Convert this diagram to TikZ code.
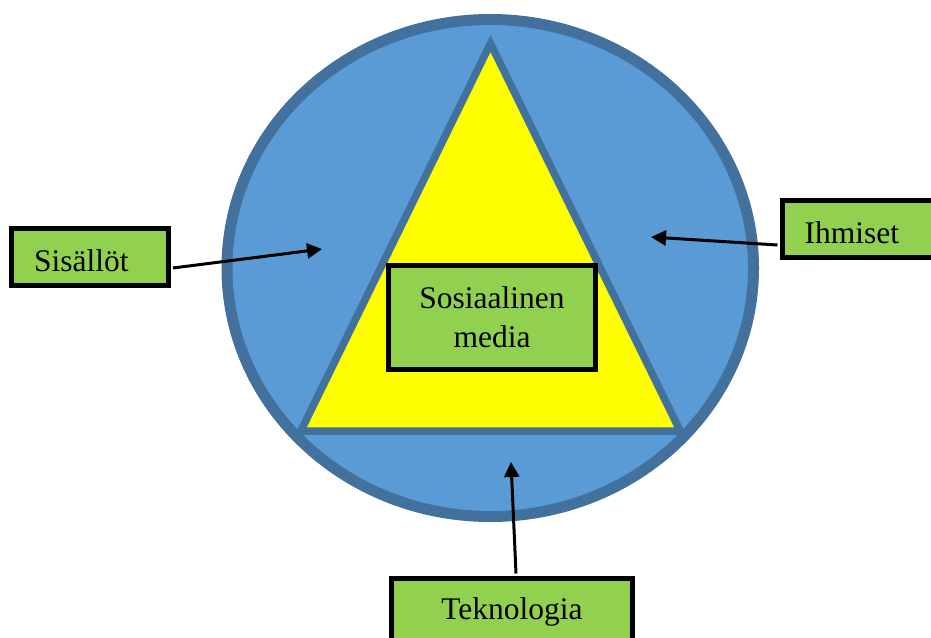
\documentclass[tikz,border=0pt]{standalone}
\usepackage{fontspec}
\setmainfont{Liberation Serif}
\usetikzlibrary{arrows.meta,calc}

\definecolor{discfill}{HTML}{5B9BD5}
\definecolor{discline}{HTML}{41719C}
\definecolor{triyellow}{HTML}{FFFF00}
\definecolor{boxgreen}{HTML}{92D050}

\tikzset{
  labelbox/.style={draw=black, fill=boxgreen, line width=5pt,
    font=\fontsize{31.5}{39}\selectfont},
  sidebox/.style={labelbox, text width=112pt, inner xsep=22.5pt,
    minimum height=57pt, align=left, text height=28pt, text depth=0pt},
  pointer/.style={draw=black, line width=3pt,
    -{Triangle[length=15pt,width=15pt]}}
}

\begin{document}
\begin{tikzpicture}[x=1pt, y=-1pt]
  \useasboundingbox (0,0) rectangle (931,637);
  \clip (0,0) rectangle (931,637);

  % outer disc
  \draw[fill=discfill, draw=discline, line width=11pt]
    (490.25,268) ellipse [x radius=263.25, y radius=248.5];

  % central triangle
  \draw[fill=triyellow, draw=discline, line width=7.5pt, line join=miter]
    (490.5,43.5) -- (680.2,431) -- (300.8,431) -- cycle;

  % tips of the pointers
  \coordinate (tipS) at (322,249);
  \coordinate (tipI) at (651,237);
  \coordinate (tipT) at (511,462);

  % labels
  \node (sis) [sidebox] at (90,257) {Sisällöt};
  \node (ihm) [sidebox, anchor=west] at (779.5,229) {Ihmiset};
  \node (tek) [labelbox, anchor=north, minimum width=241pt, inner xsep=0pt,
    inner ysep=20.5pt, text height=21pt, text depth=7pt]
    at (512,575.5) {Teknologia};
  \node (som) [labelbox, minimum width=207pt, minimum height=104pt,
    align=center] at (492,317.5) {Sosiaalinen\\media};

  % pointers from the labels into the disc
  \draw[pointer] ($(sis.east)+(2,11)$) -- (tipS);
  \draw[pointer] ($(ihm.west)+(-2,16)$) -- (tipI);
  \draw[pointer] ($(tek.north)+(4,-2)$) -- (tipT);
\end{tikzpicture}
\end{document}
